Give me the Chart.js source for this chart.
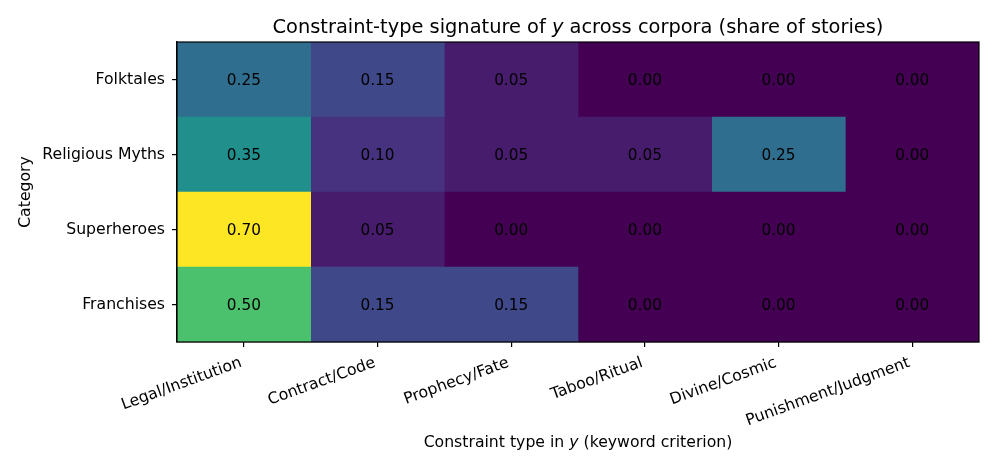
<!DOCTYPE html>
<html>
<head>
<meta charset="utf-8">
<script src="https://cdn.jsdelivr.net/npm/chart.js@4.4.1/dist/chart.umd.min.js"></script>
<style>
  html, body { margin: 0; padding: 0; background: #fff; }
  #wrap { width: 996px; height: 471px; }
</style>
</head>
<body>
<div id="wrap"><canvas id="heat" width="996" height="471"></canvas></div>
<script>
// data
const categories = ["Folktales", "Religious Myths", "Superheroes", "Franchises"];
const constraintTypes = ["Legal/Institution", "Contract/Code", "Prophecy/Fate", "Taboo/Ritual", "Divine/Cosmic", "Punishment/Judgment"];
const folktales = [0.25, 0.15, 0.05, 0.00, 0.00, 0.00];
const religiousMyths = [0.35, 0.10, 0.05, 0.05, 0.25, 0.00];
const superheroes = [0.70, 0.05, 0.00, 0.00, 0.00, 0.00];
const franchises = [0.50, 0.15, 0.15, 0.00, 0.00, 0.00];
const shares = [folktales, religiousMyths, superheroes, franchises];

const vmin = 0, vmax = 0.70;
const FONT = "'DejaVu Sans', sans-serif";
const FS = 15.7;

// viridis, 16 stops
const viridis = ["#440154", "#481a6c", "#472f7d", "#414487", "#39568c", "#31688e", "#2a788e", "#23888e",
  "#1f988b", "#22a884", "#35b779", "#54c568", "#7ad151", "#a5db36", "#d2e21b", "#fde725"];

function hexRgb(h) {
  return [parseInt(h.slice(1, 3), 16), parseInt(h.slice(3, 5), 16), parseInt(h.slice(5, 7), 16)];
}
function cmap(v) {
  let t = (v - vmin) / (vmax - vmin);
  t = Math.max(0, Math.min(1, t));
  const p = t * (viridis.length - 1);
  const i = Math.min(Math.floor(p), viridis.length - 2);
  const f = p - i;
  const a = hexRgb(viridis[i]), b = hexRgb(viridis[i + 1]);
  const c = a.map((x, k) => Math.round(x + (b[k] - x) * f));
  return "rgb(" + c.join(",") + ")";
}

// one dataset per column, each cell a floating bar [i-0.5, i+0.5]
const datasets = constraintTypes.map((name, ci) => ({
  label: name,
  data: categories.map(() => [ci - 0.5, ci + 0.5]),
  backgroundColor: categories.map((_, ri) => cmap(shares[ri][ci])),
  borderWidth: 0,
  grouped: false,
  barPercentage: 1,
  categoryPercentage: 1
}));

const overlay = {
  id: "overlay",
  afterDatasetsDraw(chart) {
    const ctx = chart.ctx;
    const xs = chart.scales.x, ys = chart.scales.y;
    ctx.save();
    ctx.fillStyle = "#000";
    ctx.font = "15.3px " + FONT;
    ctx.textAlign = "center";
    ctx.textBaseline = "middle";
    shares.forEach((row, ri) => {
      row.forEach((v, ci) => {
        ctx.fillText(v.toFixed(2), xs.getPixelForValue(ci), ys.getPixelForValue(ri) + 1.5);
      });
    });
    ctx.restore();
  },
  afterDraw(chart) {
    const ctx = chart.ctx;
    const a = chart.chartArea;
    const xs = chart.scales.x;
    ctx.save();
    // frame
    ctx.strokeStyle = "#000";
    ctx.lineWidth = 1.2;
    ctx.strokeRect(a.left, a.top, a.right - a.left, a.bottom - a.top);

    // rotated x tick labels, aligned like matplotlib (ha=right, rotation=20)
    const th = 20 * Math.PI / 180;
    ctx.font = FS + "px " + FONT;
    ctx.fillStyle = "#000";
    ctx.textAlign = "left";
    ctx.textBaseline = "alphabetic";
    const h = FS * 1.164, desc = FS * 0.236;
    const top = a.bottom + 10.5;
    constraintTypes.forEach((lab, ci) => {
      const w = ctx.measureText(lab).width;
      const tx = xs.getPixelForValue(ci);
      const bx = tx - w * Math.cos(th);
      const by = top + w * Math.sin(th) + h * Math.cos(th);
      ctx.save();
      ctx.translate(bx, by);
      ctx.rotate(-th);
      ctx.fillText(lab, 0, -desc);
      ctx.restore();
    });

    // title and axis labels with italic y
    function mixed(parts, cx, y, size) {
      let total = 0;
      parts.forEach(p => {
        ctx.font = (p.it ? "italic " : "") + size + "px " + FONT;
        p.w = ctx.measureText(p.t).width;
        total += p.w;
      });
      let x = cx - total / 2;
      parts.forEach(p => {
        ctx.font = (p.it ? "italic " : "") + size + "px " + FONT;
        ctx.fillText(p.t, x, y);
        x += p.w;
      });
    }
    const cx = (a.left + a.right) / 2;
    mixed([{ t: "Constraint-type signature of " }, { t: "y", it: true }, { t: " across corpora (share of stories)" }], cx, 32.5, 19.4);
    mixed([{ t: "Constraint type in " }, { t: "y", it: true }, { t: " (keyword criterion)" }], cx, 447, FS);

    ctx.save();
    ctx.translate(29.6, (a.top + a.bottom) / 2);
    ctx.rotate(-Math.PI / 2);
    ctx.font = FS + "px " + FONT;
    ctx.textAlign = "center";
    ctx.fillText("Category", 0, 0);
    ctx.restore();
    ctx.restore();
  }
};

new Chart(document.getElementById("heat"), {
  type: "bar",
  data: { labels: categories, datasets: datasets },
  options: {
    indexAxis: "y",
    responsive: false,
    animation: false,
    layout: { padding: { top: 42, right: 17, left: 0, bottom: 0 } },
    plugins: { legend: { display: false }, title: { display: false }, tooltip: { enabled: false } },
    scales: {
      x: {
        type: "linear",
        min: -0.5,
        max: 5.5,
        afterBuildTicks: (s) => { s.ticks = constraintTypes.map((_, i) => ({ value: i })); },
        afterFit: (s) => { s.height = 129; },
        ticks: { display: false },
        grid: { display: true, drawOnChartArea: false, drawTicks: true, tickLength: 5, color: "#000", lineWidth: 1.2 },
        border: { display: true, color: "#000", width: 1.2 }
      },
      y: {
        type: "category",
        offset: true,
        afterFit: (s) => { s.width = 177; },
        ticks: { color: "#000", font: { family: FONT, size: FS }, padding: 7 },
        grid: { display: true, drawOnChartArea: false, drawTicks: true, tickLength: 5, color: "#000", lineWidth: 1.2, offset: false },
        border: { display: true, color: "#000", width: 1.2 }
      }
    }
  },
  plugins: [overlay]
});
</script>
</body>
</html>
